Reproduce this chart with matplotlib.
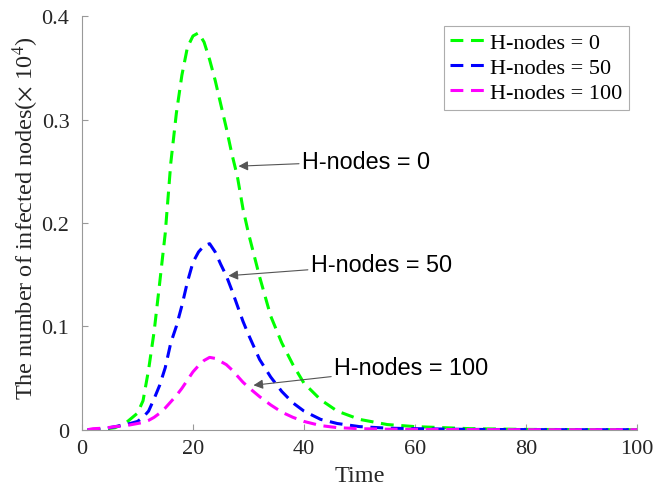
import matplotlib
matplotlib.use("Agg")
import matplotlib.pyplot as plt

plt.rcParams['mathtext.fontset'] = 'stix'

time = [1, 2, 4, 6, 8, 10, 11, 12, 13, 14, 15, 16, 17, 18, 19, 20, 21, 22, 23, 24,
        25, 26, 27, 28, 29, 30, 32, 34, 36, 38, 40, 43, 46, 50, 55, 60, 70, 80, 90, 100]

h0 = [0, 0, 0.0005, 0.002, 0.007, 0.016, 0.028, 0.058, 0.095, 0.142, 0.19, 0.258, 0.306,
      0.343, 0.37, 0.381, 0.384, 0.375, 0.358, 0.338, 0.315, 0.292, 0.267, 0.245, 0.214,
      0.19, 0.148, 0.11, 0.084, 0.063, 0.045, 0.029, 0.018, 0.01, 0.005, 0.003, 0.001,
      0.0003, 0.0001, 0]

h50 = [0, 0, 0.001, 0.003, 0.005, 0.008, 0.012, 0.018, 0.03, 0.043, 0.06, 0.084, 0.1,
       0.12, 0.143, 0.162, 0.172, 0.178, 0.18, 0.172, 0.16, 0.149, 0.135, 0.12, 0.105,
       0.092, 0.068, 0.051, 0.037, 0.026, 0.018, 0.01, 0.006, 0.003, 0.0015, 0.001,
       0.0003, 0.0001, 0, 0]

h100 = [0, 0.001, 0.0015, 0.003, 0.004, 0.006, 0.007, 0.009, 0.012, 0.016, 0.021, 0.027,
        0.033, 0.04, 0.048, 0.056, 0.062, 0.067, 0.07, 0.069, 0.066, 0.063, 0.058, 0.052,
        0.046, 0.041, 0.032, 0.024, 0.017, 0.012, 0.008, 0.004, 0.002, 0.001, 0.0005,
        0.0003, 0.0001, 0, 0, 0]

labels = ['H-nodes = 0', 'H-nodes = 50', 'H-nodes = 100']
colors = ['#00FF00', '#0000FF', '#FF00FF']

x_ticks = [0, 20, 40, 60, 80, 100]
y_ticks = [0, 0.1, 0.2, 0.3, 0.4]
y_ticklabels = ['0', '0.1', '0.2', '0.3', '0.4']

# annotations: (text, arrow head (t, v), text start (t, v))
annots = [('H-nodes = 0', (28.2, 0.255), (39.6, 0.26)),
          ('H-nodes = 50', (26.4, 0.149), (41.2, 0.160)),
          ('H-nodes = 100', (30.9, 0.043), (45.4, 0.060))]

serif = 'Liberation Serif'
sans = 'Liberation Sans'

fig = plt.figure(figsize=(6.59, 4.89), dpi=100)
ax = fig.add_axes([0.1244, 0.1192, 0.8422, 0.8454])

for ys, c, lab in zip([h0, h50, h100], colors, labels):
    ax.plot(time, ys, color=c, lw=2.2, dashes=(4.2, 2.5), label=lab)

ax.set_xlim(0, 100)
ax.set_ylim(0, 0.4)
ax.set_xticks(x_ticks)
ax.set_xticklabels([str(v) for v in x_ticks])
ax.set_yticks(y_ticks)
ax.set_yticklabels(y_ticklabels)

for s in ['top', 'right']:
    ax.spines[s].set_visible(False)
for s in ['left', 'bottom']:
    ax.spines[s].set_color('#999999')
    ax.spines[s].set_linewidth(0.8)

ax.tick_params(direction='in', length=4, color='#999999', labelcolor='#262626',
               labelsize=16)
ax.tick_params(axis='x', pad=7)
ax.tick_params(axis='y', pad=9)
for lbl in ax.get_xticklabels() + ax.get_yticklabels():
    lbl.set_fontfamily(serif)

ax.set_xlabel('Time', fontfamily=serif, fontsize=17.5, color='#262626')
ax.xaxis.set_label_coords(0.5, -0.085)
ax.set_ylabel(r'The number of infected nodes($\times$ 10$^4$)', fontfamily=serif,
              fontsize=17.5, color='#262626')
ax.yaxis.set_label_coords(-0.074, 0.515)

for txt, head, tail in annots:
    ax.annotate(txt, xy=head, xytext=tail, fontfamily=sans, fontsize=16.8,
                va='center', ha='left', color='black',
                arrowprops=dict(arrowstyle='-|>', color='#555555', lw=0.8,
                                shrinkA=0, shrinkB=0, mutation_scale=14))

leg = ax.legend(loc='upper right', bbox_to_anchor=(0.955, 0.945),
                bbox_transform=fig.transFigure, prop={'family': serif, 'size': 16},
                frameon=True, fancybox=False, edgecolor='#999999', handlelength=1.6,
                handletextpad=0.2, borderpad=0.3, labelspacing=0.2, borderaxespad=0)
leg.get_frame().set_linewidth(0.8)

fig.savefig('out.png', dpi=100)
